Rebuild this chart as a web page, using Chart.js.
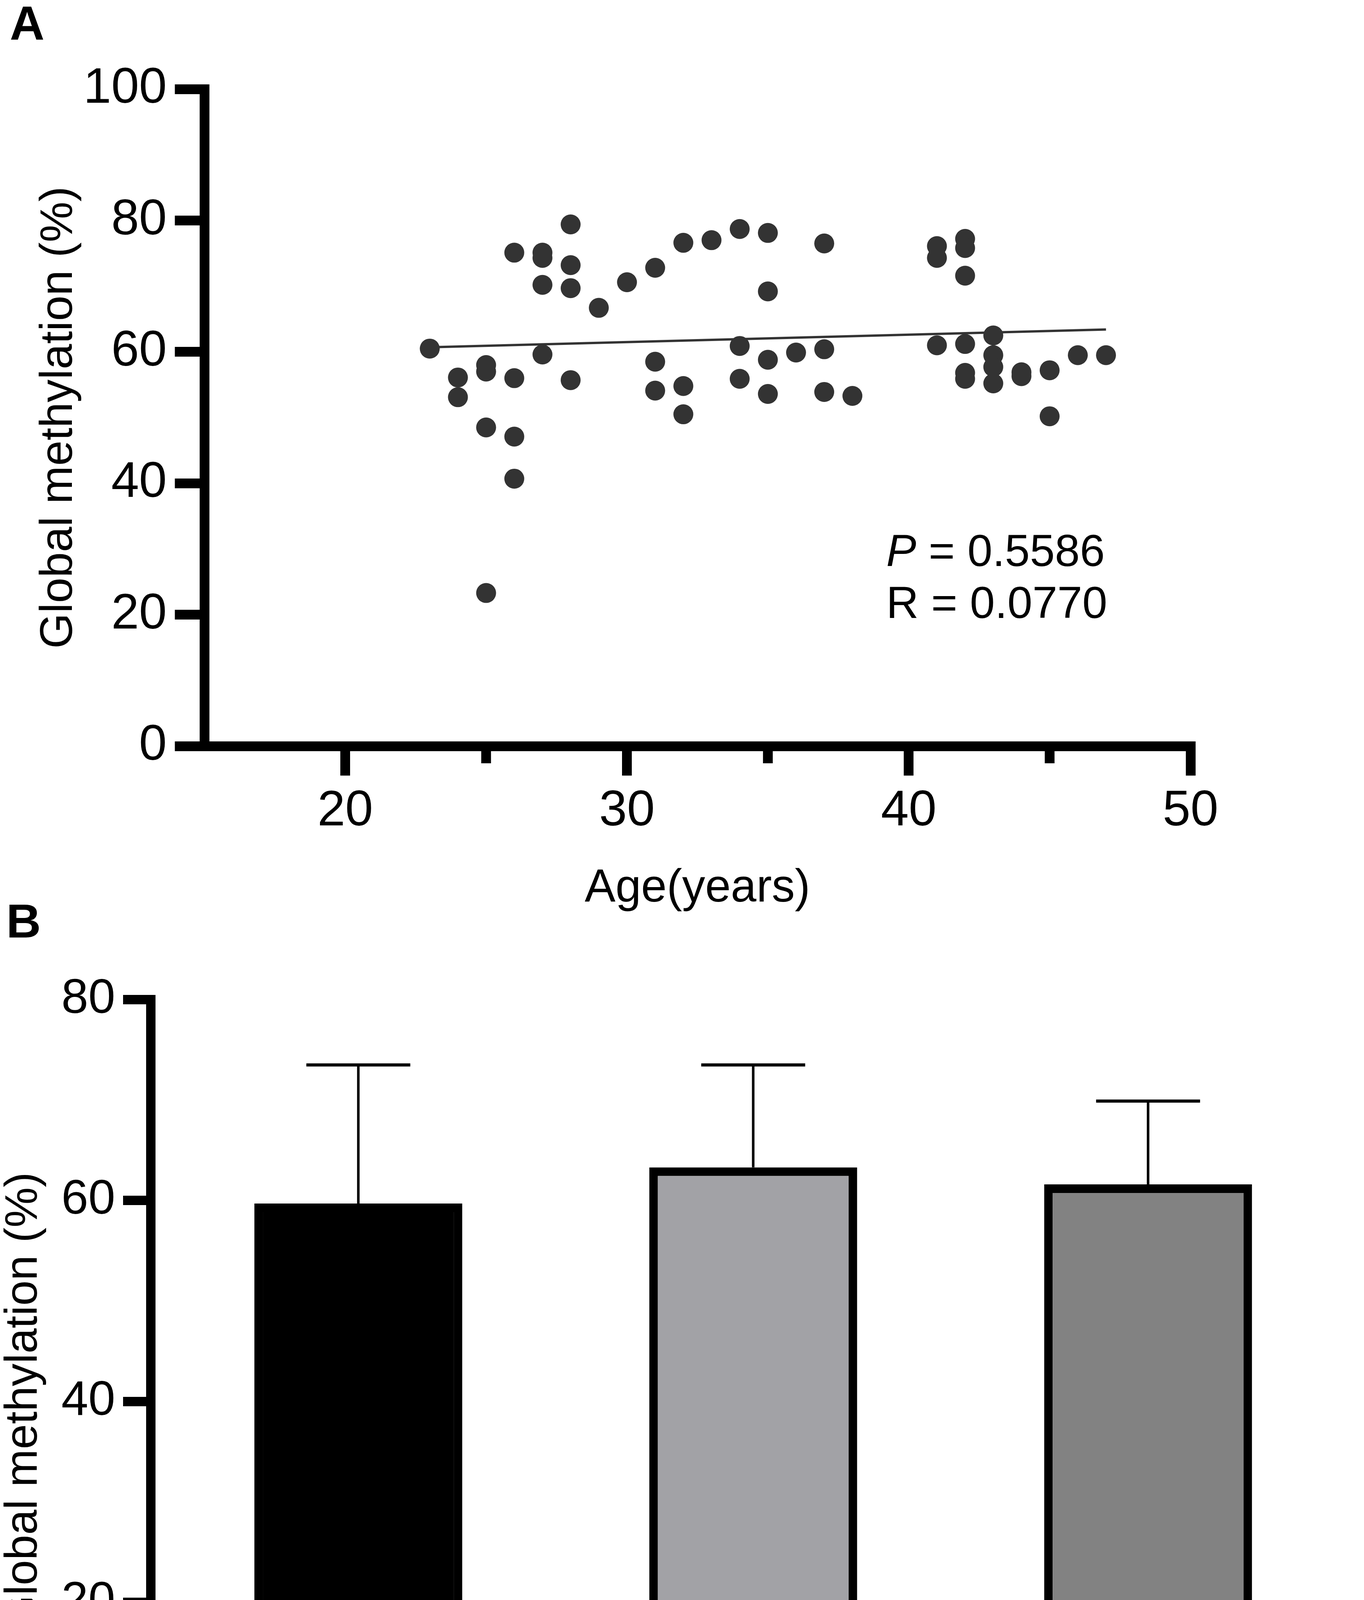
<!DOCTYPE html>
<html>
<head>
<meta charset="utf-8">
<title>Global methylation and age</title>
<script src="https://cdn.jsdelivr.net/npm/chart.js@4.4.1/dist/chart.umd.min.js"></script>
<style>
  html, body { margin: 0; padding: 0; background: #fff; }
  body { width: 3491px; height: 4833px; position: relative; overflow: hidden; }
  canvas { position: absolute; left: 0; }
  .panel { position: absolute; font-family: "Liberation Sans", Arial, sans-serif; font-weight: bold; font-size: 123px; line-height: 1; color: #000; }
</style>
</head>
<body>
<canvas id="chartA" width="3491" height="2400" style="top:0;width:3491px;height:2400px"></canvas>
<canvas id="chartB" width="3491" height="2433" style="top:2400px;width:3491px;height:2433px"></canvas>
<div class="panel" style="left:25px;top:-2px">A</div>
<div class="panel" style="left:16px;top:2296px">B</div>
<script>
// panel A: age vs global methylation
const ages = [23, 24, 24, 25, 25, 25, 25, 26, 26, 26, 26, 27, 27, 27, 27, 28, 28, 28, 28,
  29, 30, 31, 31, 31, 32, 32, 32, 33, 34, 34, 34, 35, 35, 35, 35, 36, 37, 37, 37, 38,
  41, 41, 41, 42, 42, 42, 42, 42, 42, 43, 43, 43, 43, 44, 44, 45, 45, 46, 47];
const methylation = [60.5, 56.1, 53.1, 58.0, 57.0, 48.5, 23.3, 75.1, 56.0, 47.1, 40.7,
  75.1, 74.3, 70.2, 59.6, 79.4, 73.2, 69.7, 55.7, 66.7, 70.6, 72.8, 58.5, 54.1,
  76.6, 54.8, 50.5, 77.0, 78.7, 60.9, 55.9, 78.1, 69.2, 58.8, 53.6, 59.9, 76.5, 60.4, 53.9, 53.3,
  76.1, 74.3, 61.0, 77.2, 75.8, 71.6, 61.2, 56.8, 55.9, 62.5, 59.5, 57.7, 55.2, 56.9, 56.3,
  57.2, 50.2, 59.5, 59.5];
const trendAges = [23, 47];
const trendValues = [60.7, 63.4];
const xMajorTicks = [20, 30, 40, 50];
const xMinorTicks = [25, 35, 45];
const statLines = [{italic: "P", text: " = 0.5586"}, {italic: "", text: "R = 0.0770"}];

// panel B: group means with SD
const groupLabels = ["<30 Years of age", "30-40 Years of age", ">40 Years of age"];
const groupMeans = [59.7, 63.3, 61.6];
const groupSD = [13.8, 10.2, 8.3];
const groupColors = ["#000000", "#a2a2a6", "#828282"];

const family = '"Liberation Sans", Arial, sans-serif';
Chart.defaults.font.family = family;
Chart.defaults.color = "#000";

function axisGrid(len, w) {
  return { display: true, drawOnChartArea: false, drawTicks: true, tickLength: len,
    lineWidth: w, tickWidth: w, color: "#000", offset: false };
}

const minorTicks = {
  id: "minorTicks",
  afterDraw(chart) {
    const ctx = chart.ctx;
    const xs = chart.scales.x;
    const y0 = chart.chartArea.bottom + 12;
    ctx.save();
    ctx.strokeStyle = "#000";
    ctx.lineWidth = 25;
    ctx.lineCap = "butt";
    xMinorTicks.forEach(v => {
      const px = xs.getPixelForValue(v);
      ctx.beginPath();
      ctx.moveTo(px, y0);
      ctx.lineTo(px, y0 + 32);
      ctx.stroke();
    });
    ctx.restore();
  }
};

const statsText = {
  id: "statsText",
  afterDraw(chart) {
    const ctx = chart.ctx;
    const left = chart.scales.x.getPixelForValue(39.2);
    const baselines = [27.4, 19.5];
    ctx.save();
    ctx.fillStyle = "#000";
    ctx.textAlign = "left";
    ctx.textBaseline = "alphabetic";
    statLines.forEach((line, i) => {
      const base = chart.scales.y.getPixelForValue(baselines[i]);
      let cx = left;
      if (line.italic) {
        ctx.font = "italic 115px " + family;
        ctx.fillText(line.italic, cx, base);
        cx += ctx.measureText(line.italic).width;
      }
      ctx.font = "115px " + family;
      ctx.fillText(line.text, cx, base);
    });
    ctx.restore();
  }
};

new Chart(document.getElementById("chartA"), {
  type: "scatter",
  data: {
    datasets: [
      {
        label: "Samples",
        data: ages.map((a, i) => ({ x: a, y: methylation[i] })),
        pointRadius: 25.5,
        pointHoverRadius: 25.5,
        backgroundColor: "#333333",
        borderWidth: 0
      },
      {
        type: "line",
        label: "Linear fit",
        data: trendAges.map((a, i) => ({ x: a, y: trendValues[i] })),
        borderColor: "#333333",
        borderWidth: 6,
        pointRadius: 0,
        fill: false,
        showLine: true
      }
    ]
  },
  options: {
    responsive: false,
    animation: false,
    devicePixelRatio: 1,
    events: [],
    layout: { padding: { top: 228, right: 444, bottom: 0, left: 0 } },
    plugins: { legend: { display: false }, tooltip: { enabled: false } },
    scales: {
      x: {
        type: "linear",
        min: 15,
        max: 50,
        offset: false,
        afterBuildTicks: s => { s.ticks = xMajorTicks.map(v => ({ value: v })); },
        afterFit: s => { s.height = 490; },
        grid: axisGrid(75.5, 25),
        border: { display: true, width: 25, color: "#000" },
        ticks: { font: { size: 128 }, padding: 15, maxRotation: 0, autoSkip: false },
        title: { display: true, text: "Age(years)", font: { size: 118 }, padding: { top: 0, bottom: 54 } }
      },
      y: {
        min: 0,
        max: 100,
        afterFit: s => { s.width = 523; },
        grid: axisGrid(75.5, 25),
        border: { display: true, width: 25, color: "#000" },
        ticks: { stepSize: 20, font: { size: 128 }, padding: 20.5 },
        title: { display: true, text: "Global methylation (%)", font: { size: 117 }, padding: { top: 82, bottom: 0 } }
      }
    }
  },
  plugins: [minorTicks, statsText]
});

const errorBars = {
  id: "errorBars",
  afterDatasetsDraw(chart) {
    const ctx = chart.ctx;
    const ys = chart.scales.y;
    const bars = chart.getDatasetMeta(0).data;
    ctx.save();
    ctx.strokeStyle = "#000";
    ctx.lineCap = "butt";
    bars.forEach((bar, i) => {
      const base = ys.getPixelForValue(groupMeans[i]);
      const top = ys.getPixelForValue(groupMeans[i] + groupSD[i]);
      const half = bar.width / 4;
      ctx.lineWidth = 6.5;
      ctx.beginPath();
      ctx.moveTo(bar.x, base);
      ctx.lineTo(bar.x, top);
      ctx.stroke();
      ctx.lineWidth = 8;
      ctx.beginPath();
      ctx.moveTo(bar.x - half, top);
      ctx.lineTo(bar.x + half, top);
      ctx.stroke();
    });
    ctx.restore();
  }
};

new Chart(document.getElementById("chartB"), {
  type: "bar",
  data: {
    datasets: [{
      label: "Global methylation",
      data: groupMeans.map((m, i) => ({ x: i, y: m })),
      backgroundColor: groupColors,
      borderColor: "#000",
      borderWidth: 22,
      barPercentage: 0.5265,
      categoryPercentage: 1
    }]
  },
  options: {
    responsive: false,
    animation: false,
    devicePixelRatio: 1,
    events: [],
    layout: { padding: { top: 159, right: 20, bottom: 0, left: 0 } },
    plugins: { legend: { display: false }, tooltip: { enabled: false } },
    scales: {
      x: {
        type: "linear",
        min: -0.5255,
        max: 2.527,
        offset: false,
        afterBuildTicks: s => { s.ticks = groupLabels.map((_, i) => ({ value: i })); },
        afterFit: s => { s.height = 217; },
        grid: axisGrid(71, 24),
        border: { display: true, width: 24, color: "#000" },
        ticks: {
          font: { size: 110 }, padding: 8, maxRotation: 0, minRotation: 0, autoSkip: false,
          callback: v => groupLabels[v]
        }
      },
      y: {
        min: 0,
        max: 80,
        afterFit: s => { s.width = 386; },
        grid: axisGrid(71, 24),
        border: { display: true, width: 24, color: "#000" },
        ticks: { stepSize: 20, font: { size: 124 }, padding: 20 },
        title: { display: true, text: "Global methylation (%)", font: { size: 116, lineHeight: 1 }, padding: { top: 4, bottom: 0 } }
      }
    }
  },
  plugins: [errorBars]
});
</script>
</body>
</html>
